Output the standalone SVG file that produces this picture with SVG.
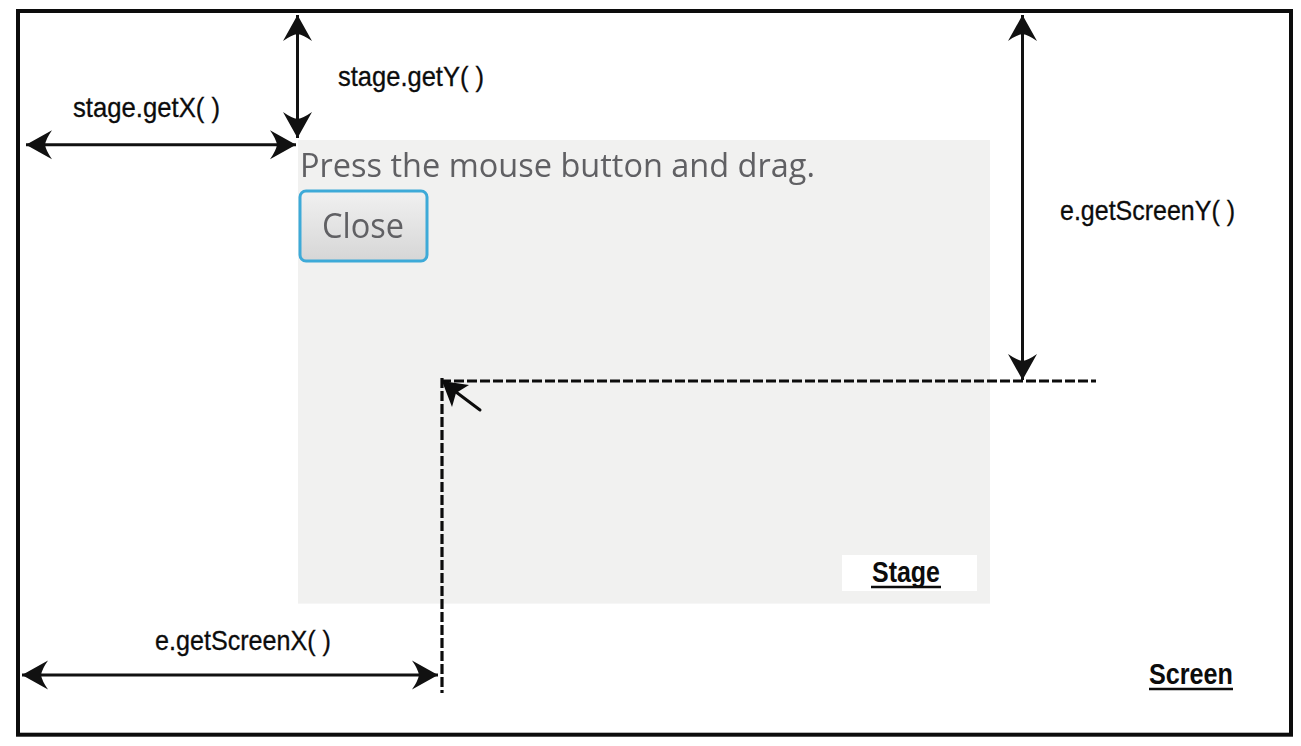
<svg xmlns="http://www.w3.org/2000/svg" width="1301" height="746" viewBox="0 0 1301 746">
  <style>
    .lbl { font-family: "Liberation Sans", Arial, sans-serif; font-size: 28px; fill: #0c0c0c; stroke: #0c0c0c; stroke-width: 0.3px; }
    .title { font-family: "Liberation Sans", Arial, sans-serif; font-size: 30px; font-weight: bold; fill: #0c0c0c; }
    .shot { font-family: "Open Sans", "Noto Sans", sans-serif; fill: #606064; }
    .dim { stroke: #111; stroke-width: 3; fill: none; marker-start: url(#head); marker-end: url(#head); }
    .dash { stroke: #0c0c0c; stroke-width: 3.2; fill: none; stroke-dasharray: 10 3; }
    .ul { stroke: #0c0c0c; stroke-width: 2.5; }
  </style>
  <defs>
    <marker id="head" markerUnits="userSpaceOnUse" markerWidth="30" markerHeight="32" refX="26" refY="15" orient="auto-start-reverse" viewBox="0 0 30 30">
      <path d="M26 15 L0 0.5 Q6 9 7 15 Q6 21 0 29.5 Z" fill="#111"/>
    </marker>
    <linearGradient id="btn" x1="0" y1="0" x2="0" y2="1">
      <stop offset="0" stop-color="#f1f1f1"/>
      <stop offset="1" stop-color="#d6d6d6"/>
    </linearGradient>
    <filter id="soft" x="-5%" y="-5%" width="110%" height="110%"><feGaussianBlur stdDeviation="0.7"/></filter>
  </defs>
  <rect width="1301" height="746" fill="#fff"/>
  <g id="screen">
    <rect x="18" y="11" width="1273" height="723.7" fill="#fff" stroke="#0c0c0c" stroke-width="4"/>
    <text class="title" x="1149" y="684" textLength="84" lengthAdjust="spacingAndGlyphs">Screen</text>
    <line class="ul" x1="1149" y1="689" x2="1233" y2="689"/>
  </g>
  <g id="stage">
    <rect x="298" y="140" width="692" height="463.6" fill="#f1f1f0"/>
    <g filter="url(#soft)">
      <text class="shot" x="300" y="177" font-size="33" textLength="515" lengthAdjust="spacingAndGlyphs">Press the mouse button and drag.</text>
    </g>
    <rect x="842" y="555" width="135" height="36" fill="#fff"/>
    <text class="title" x="872" y="582" textLength="68" lengthAdjust="spacingAndGlyphs">Stage</text>
    <line class="ul" x1="871" y1="587" x2="941" y2="587"/>
  </g>
  <g id="close-button">
    <g filter="url(#soft)">
      <rect x="300" y="191" width="127" height="70" rx="6" fill="url(#btn)" stroke="#3eaad8" stroke-width="3"/>
      <text class="shot" x="322" y="238" font-size="34" textLength="82" lengthAdjust="spacingAndGlyphs">Close</text>
    </g>
  </g>
  <g id="labels">
    <text class="lbl" x="73" y="117" textLength="147" lengthAdjust="spacingAndGlyphs">stage.getX( )</text>
    <text class="lbl" x="338" y="86" textLength="146" lengthAdjust="spacingAndGlyphs">stage.getY( )</text>
    <text class="lbl" x="155" y="650" textLength="176" lengthAdjust="spacingAndGlyphs">e.getScreenX( )</text>
    <text class="lbl" x="1060" y="220" textLength="175" lengthAdjust="spacingAndGlyphs">e.getScreenY( )</text>
  </g>
  <g id="connectors">
    <line class="dim" x1="26" y1="144.7" x2="296" y2="144.7"/>
    <line class="dim" x1="297.5" y1="15" x2="297.5" y2="138"/>
    <line class="dim" x1="22" y1="675" x2="438" y2="675"/>
    <line class="dim" x1="1022.5" y1="15" x2="1022.5" y2="380"/>
    <line class="dash" x1="441" y1="381" x2="1096" y2="381"/>
    <line class="dash" x1="442" y1="378" x2="442" y2="693"/>
    <path d="M442 381 L469 385 L456 393 L452 407 Z" fill="#0c0c0c"/>
    <line x1="452" y1="389" x2="480" y2="410" stroke="#0c0c0c" stroke-width="3" stroke-linecap="round"/>
  </g>
</svg>
